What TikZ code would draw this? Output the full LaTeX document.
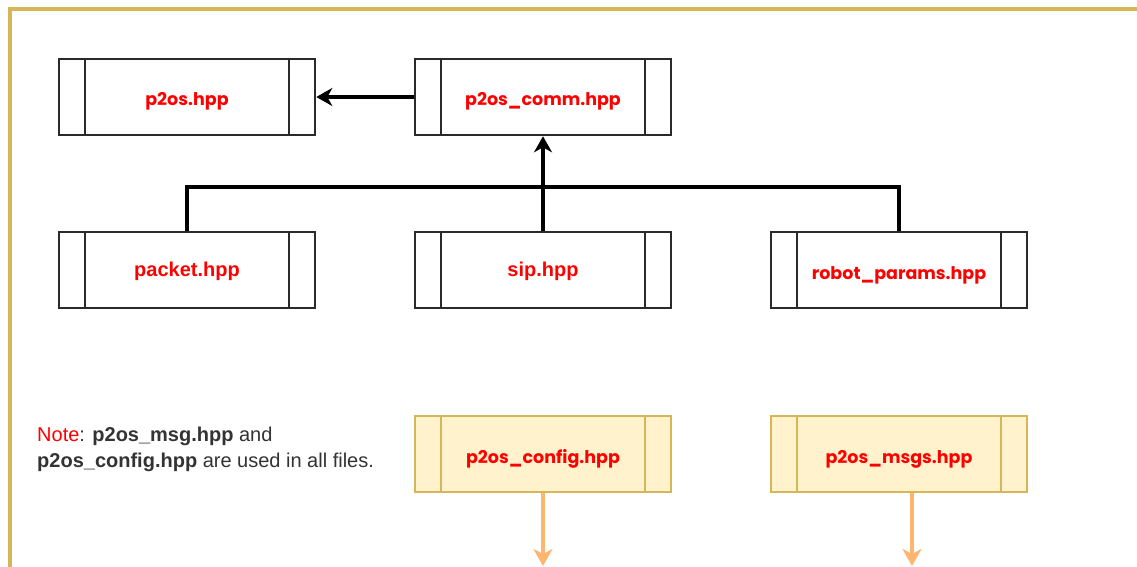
\documentclass[tikz,border=0pt]{standalone}
\usepackage{fontspec}
\setmainfont{Liberation Sans}
\newfontfamily\labelfont{Poppins}
\usetikzlibrary{arrows.meta}
\definecolor{framegold}{HTML}{D6B656}
\definecolor{notefill}{HTML}{FFF2CC}
\definecolor{edgeorange}{HTML}{FFB570}
\definecolor{labelred}{HTML}{FF0000}
\definecolor{boxgray}{HTML}{2A2A2A}
\definecolor{notetext}{HTML}{333333}

\tikzset{
  procbox/.style={draw=#1, line width=2.6pt, fill=white,
    minimum width=256pt, minimum height=76pt, inner sep=0pt,
    text=labelred, font=\labelfont\bfseries\fontsize{17.5}{20}\selectfont,
    text height=18pt, text depth=0pt,
    path picture={
      \draw[draw=#1, line width=2.6pt]
        ([xshift=26pt]path picture bounding box.north west) --
        ([xshift=26pt]path picture bounding box.south west)
        ([xshift=-26pt]path picture bounding box.north east) --
        ([xshift=-26pt]path picture bounding box.south east);}},
  procbox/.default=boxgray,
  sharedbox/.style={procbox=framegold, fill=notefill},
  arialtext/.style={font=\bfseries\fontsize{20}{24}\selectfont,
    text height=13.5pt, text depth=0pt},
  dep/.style={draw=black, line width=3.2pt},
  deparrow/.style={dep, -{Stealth[length=16pt, width=18pt, inset=5pt]}},
  usearrow/.style={draw=edgeorange, line width=3.4pt,
    -{Stealth[length=17pt, width=19pt, inset=5pt]}},
}

\begin{document}
\begin{tikzpicture}[x=1pt, y=-1pt]
  % page and frame
  \useasboundingbox (0,0) rectangle (1137,567);
  \fill[white] (0,0) rectangle (1137,567);
  \draw[framegold, line width=3.5pt] (10,570) -- (10,9) -- (1140,9);

  % header files
  \node[procbox] (p2os)   at (187,97)  {p2os.hpp};
  \node[procbox] (comm)   at (543,97)  {p2os\_comm.hpp};
  \node[procbox, arialtext] (packet) at (187,270) {packet.hpp};
  \node[procbox, arialtext] (sip)    at (543,270) {sip.hpp};
  \node[procbox] (robot)  at (899,270) {robot\_params.hpp};
  \node[sharedbox] (config) at (543,454) {p2os\_config.hpp};
  \node[sharedbox] (msgs)   at (899,454) {p2os\_msgs.hpp};

  % note
  \node[anchor=north west, inner sep=0pt, align=left, text=notetext,
        font=\fontsize{20}{26}\selectfont] (note) at (37,427)
    {\textcolor{labelred}{Note}: \textbf{p2os\_msg.hpp} and\\
     \textbf{p2os\_config.hpp} are used in all files.};

  % include dependencies
  \coordinate (bus) at (543,187);
  \draw[deparrow] (comm.west) -- (p2os.east);
  \draw[dep] (packet.north) |- (bus) -| (robot.north);
  \draw[deparrow] (sip.north) -- (comm.south);

  % shared headers feed all files
  \coordinate (configend) at (543,566);
  \coordinate (msgsend) at (912,566);
  \draw[usearrow] (config.south) -- (configend);
  \draw[usearrow] (msgsend |- msgs.south) -- (msgsend);
\end{tikzpicture}
\end{document}
